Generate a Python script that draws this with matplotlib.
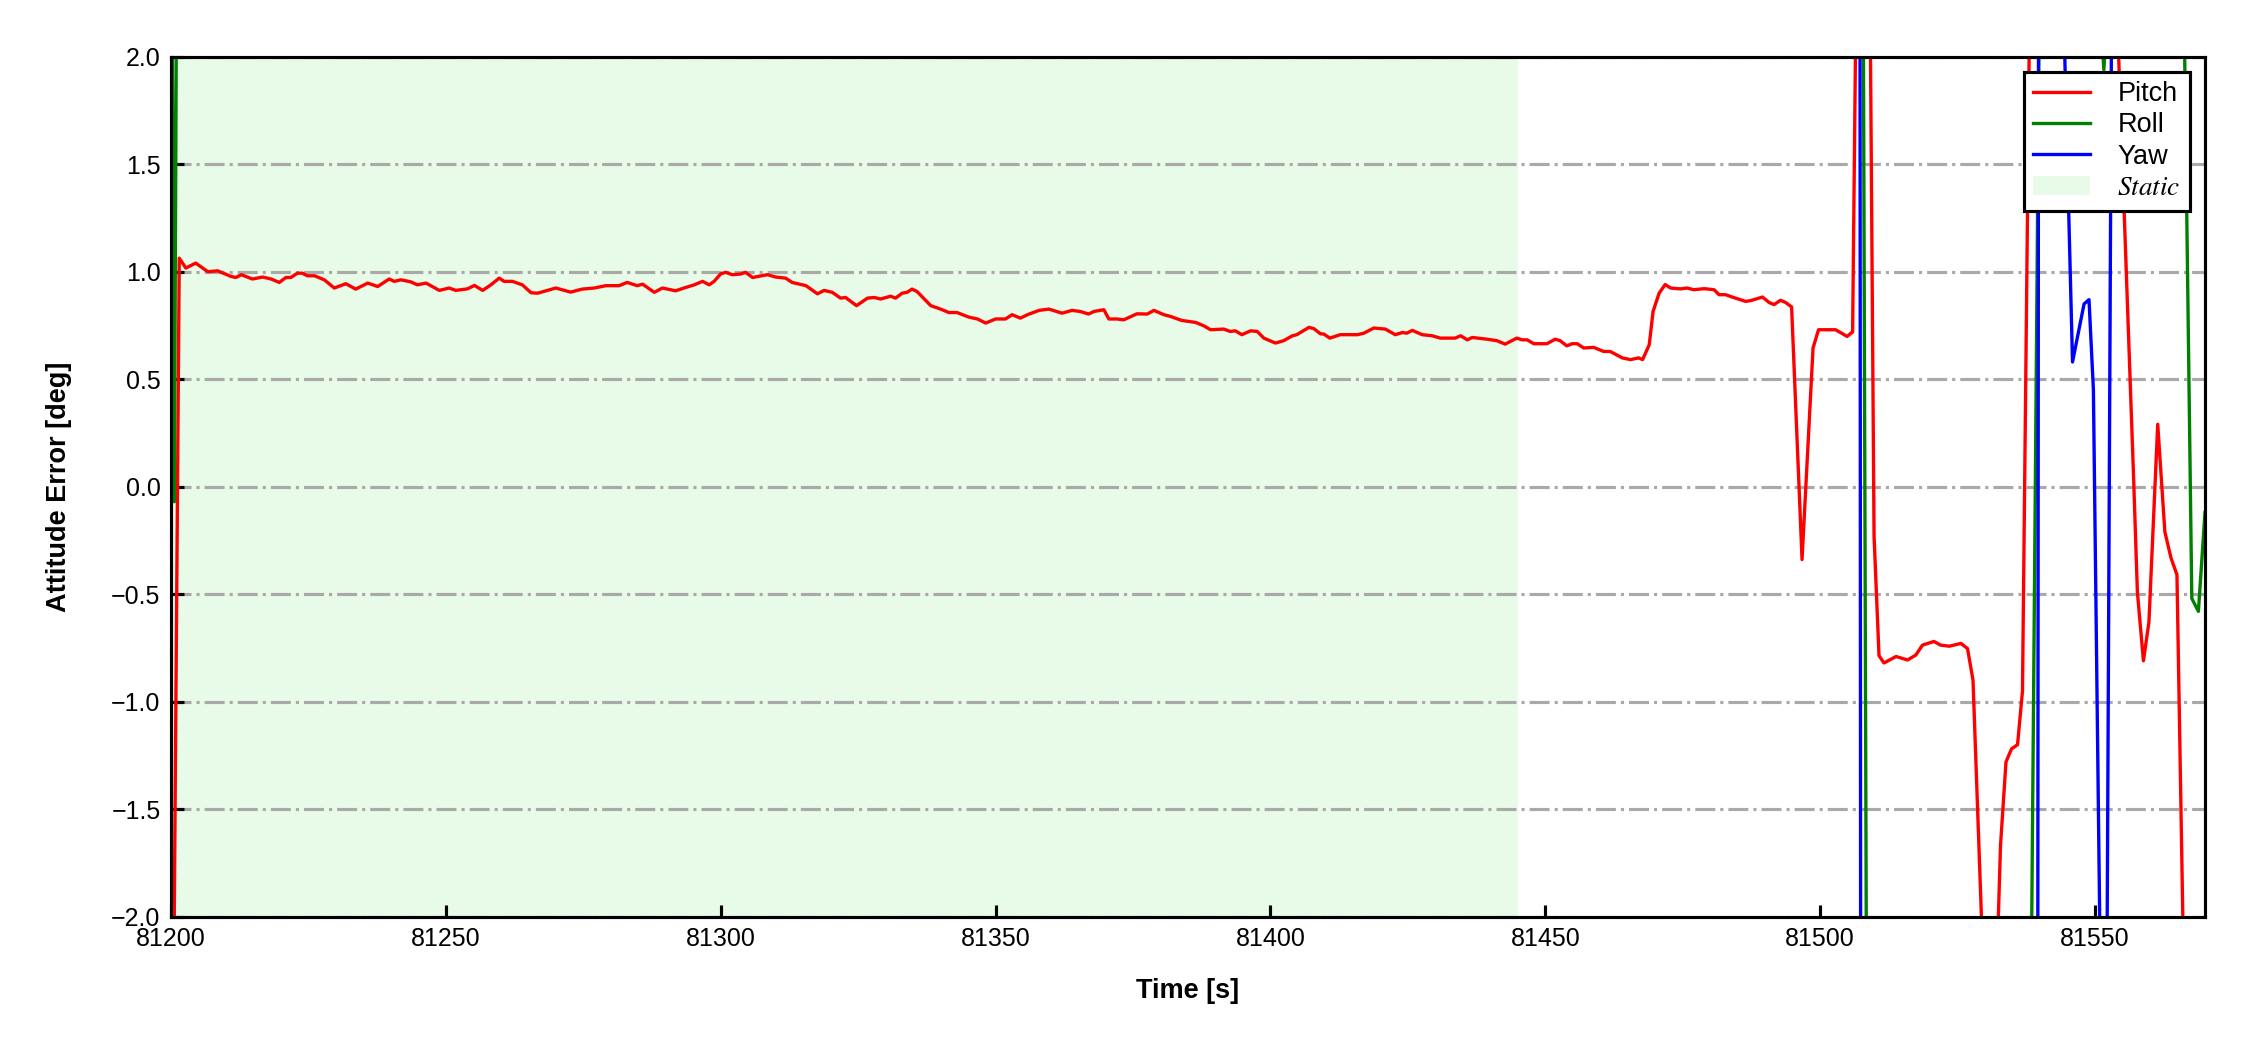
import numpy as np
import matplotlib.pyplot as plt

plt.rcParams['font.family'] = ['Liberation Sans', 'DejaVu Sans']
plt.rcParams['mathtext.fontset'] = 'stix'

# Pitch error (deg) vs GPS time (s)
pitch_t = [81200.3, 81201.5, 81202.7, 81204.5, 81206.7, 81208.5, 81210.9, 81211.8, 81212.8, 81214.8,
           81216.7, 81218.2, 81219.7, 81220.9, 81221.8, 81223.0, 81223.9, 81224.8, 81226.1, 81227.9,
           81229.7, 81231.8, 81233.6, 81235.8, 81237.6, 81239.7, 81240.6, 81241.8, 81243.6, 81244.8,
           81246.4, 81248.8, 81250.6, 81251.8, 81253.9, 81255.2, 81256.7, 81258.2, 81259.7, 81260.6,
           81262.1, 81263.9, 81265.5, 81266.7, 81270.0, 81272.7, 81274.8, 81277.0, 81279.1, 81281.5,
           81283.0, 81284.8, 81285.8, 81287.9, 81289.4, 81291.8, 81293.3, 81295.2, 81296.7, 81297.9,
           81298.8, 81300.0, 81300.9, 81302.1, 81303.6, 81304.5, 81305.8, 81308.5, 81310.0, 81311.8,
           81313.0, 81315.5, 81317.6, 81318.8, 81320.3, 81321.8, 81322.7, 81324.7, 81326.7, 81327.9,
           81329.1, 81330.9, 81331.8, 81333.0, 81333.9, 81334.8, 81335.7, 81338.2, 81340.0, 81341.5,
           81343.0, 81345.1, 81346.7, 81348.2, 81350.0, 81351.8, 81353.0, 81354.5, 81355.8, 81357.9,
           81359.7, 81362.1, 81363.9, 81365.4, 81366.9, 81367.9, 81369.7, 81370.6, 81372.1, 81373.3,
           81375.7, 81377.6, 81378.8, 81380.6, 81381.8, 81383.9, 81386.4, 81387.9, 81389.1, 81391.5,
           81392.7, 81393.6, 81394.8, 81396.4, 81397.6, 81398.8, 81400.9, 81402.4, 81404.0, 81404.8,
           81407.0, 81407.9, 81409.1, 81409.7, 81410.8, 81412.7, 81415.8, 81417.0, 81418.8, 81420.9,
           81422.7, 81424.0, 81424.8, 81425.8, 81427.6, 81429.4, 81430.9, 81433.6, 81434.6, 81435.8,
           81436.7, 81439.4, 81441.2, 81442.7, 81444.8, 81445.8, 81446.7, 81447.9, 81450.3, 81451.8,
           81452.7, 81453.9, 81454.9, 81455.8, 81457.0, 81458.8, 81460.6, 81461.8, 81464.0, 81465.5,
           81467.0, 81467.7, 81468.9, 81469.6, 81470.7, 81471.8, 81472.8, 81474.6, 81475.8, 81477.0,
           81478.9, 81480.7, 81481.6, 81482.8, 81484.0, 81486.4, 81487.3, 81489.5, 81490.7, 81491.6,
           81492.8, 81493.7, 81494.8, 81496.7, 81498.7, 81499.7, 81502.8, 81504.9, 81505.9, 81508.0,
           81509.8, 81510.7, 81511.6, 81513.8, 81515.9, 81517.4, 81518.6, 81520.7, 81521.9, 81523.5,
           81525.6, 81526.8, 81527.8, 81531.0, 81532.8, 81533.8, 81534.8, 81535.9, 81536.8, 81538.5,
           81546.0, 81553.6, 81557.0, 81557.7, 81558.8, 81559.8, 81561.4, 81562.7, 81563.8, 81564.9,
           81566.5, 81570.0]
pitch = [-3.0, 1.063, 1.017, 1.04, 1.00, 1.004, 0.978, 0.973, 0.986, 0.966,
         0.975, 0.966, 0.950, 0.973, 0.973, 0.993, 0.993, 0.981, 0.981, 0.962,
         0.924, 0.944, 0.919, 0.947, 0.931, 0.966, 0.955, 0.962, 0.953, 0.939,
         0.947, 0.913, 0.924, 0.913, 0.920, 0.936, 0.913, 0.939, 0.970, 0.955,
         0.955, 0.939, 0.902, 0.900, 0.924, 0.905, 0.919, 0.924, 0.935, 0.935,
         0.950, 0.935, 0.942, 0.904, 0.924, 0.911, 0.924, 0.939, 0.955, 0.939,
         0.955, 0.990, 0.997, 0.986, 0.989, 0.997, 0.973, 0.986, 0.975, 0.970,
         0.950, 0.935, 0.897, 0.913, 0.904, 0.877, 0.880, 0.842, 0.877, 0.880,
         0.873, 0.886, 0.877, 0.900, 0.904, 0.919, 0.908, 0.842, 0.826, 0.810,
         0.810, 0.789, 0.780, 0.761, 0.780, 0.780, 0.800, 0.784, 0.800, 0.820,
         0.826, 0.807, 0.820, 0.815, 0.803, 0.815, 0.823, 0.780, 0.780, 0.776,
         0.804, 0.803, 0.820, 0.800, 0.792, 0.773, 0.764, 0.748, 0.730, 0.733,
         0.722, 0.725, 0.707, 0.725, 0.722, 0.691, 0.668, 0.679, 0.702, 0.707,
         0.741, 0.735, 0.711, 0.710, 0.691, 0.707, 0.707, 0.714, 0.738, 0.733,
         0.707, 0.717, 0.714, 0.727, 0.707, 0.702, 0.691, 0.691, 0.702, 0.683,
         0.694, 0.686, 0.679, 0.663, 0.691, 0.683, 0.683, 0.665, 0.665, 0.686,
         0.679, 0.655, 0.665, 0.665, 0.645, 0.648, 0.629, 0.629, 0.599, 0.591,
         0.599, 0.591, 0.660, 0.815, 0.900, 0.940, 0.924, 0.920, 0.924, 0.916,
         0.921, 0.916, 0.893, 0.893, 0.882, 0.862, 0.865, 0.882, 0.857, 0.847,
         0.867, 0.857, 0.836, -0.339, 0.645, 0.730, 0.730, 0.699, 0.720, 6.0,
         -0.23, -0.786, -0.820, -0.790, -0.806, -0.783, -0.737, -0.720, -0.737, -0.742,
         -0.729, -0.753, -0.900, -3.2, -1.67, -1.28, -1.22, -1.20, -0.95, 3.2,
         4.0, 2.5, 0.05, -0.49, -0.81, -0.63, 0.29, -0.21, -0.33, -0.41,
         -2.8, -3.0]

# Roll error
roll_t = [81200.0, 81200.6, 81201.2, 81507.5, 81509.0, 81538.0, 81540.2, 81550.5, 81551.6, 81552.6,
          81566.0, 81567.6, 81568.8, 81570.0]
roll = [3.5, -0.07, 3.5, 5.0, -7.0, -3.5, 3.3, 2.4, 1.94, 2.4,
        2.6, -0.52, -0.58, -0.12]

# Yaw error
yaw_t = [81200.0, 81507.0, 81507.6, 81539.3, 81540.0, 81543.5, 81545.9, 81548.0, 81548.9, 81549.7,
         81551.4, 81552.1, 81553.0, 81554.0, 81570.0]
yaw = [12, 12, -12, -12, 12, 3.0, 0.58, 0.85, 0.87, 0.45,
       -3.2, -2.6, 2.2, 12, 12]

static_start, static_end = 81200, 81445

fig = plt.figure(figsize=(15, 7), dpi=150)
ax = fig.add_axes([0.076, 0.127, 0.904, 0.819])

ax.axvspan(static_start, static_end, color='lightgreen', alpha=0.2, lw=0, label='$Static$')
ax.plot(pitch_t, pitch, color='red', lw=1.6, label='Pitch')
ax.plot(roll_t, roll, color='green', lw=1.6, label='Roll')
ax.plot(yaw_t, yaw, color='blue', lw=1.6, label='Yaw')

ax.set_xlim(81200, 81570)
ax.set_ylim(-2, 2)
ax.set_xticks([81200, 81250, 81300, 81350, 81400, 81450, 81500, 81550])
ax.set_yticks(np.arange(-2, 2.01, 0.5))
ax.grid(axis='y', linestyle='-.', color='darkgray', lw=1.5)
ax.tick_params(direction='in', length=6, width=1.5, labelsize=12, pad=5)
for s in ax.spines.values():
    s.set_linewidth(1.5)

ax.set_xlabel('Time [s]', fontsize=13, fontweight='bold', labelpad=13)
ax.set_ylabel('Attitude Error [deg]', fontsize=13, fontweight='bold', labelpad=19)

h, l = ax.get_legend_handles_labels()
order = [1, 2, 3, 0]
leg = ax.legend([h[i] for i in order], [l[i] for i in order], loc='upper right',
                fontsize=13, fancybox=False, edgecolor='black', framealpha=1,
                borderaxespad=0.55, labelspacing=0.2, handlelength=2.1,
                handletextpad=1.0, borderpad=0.35)
leg.get_frame().set_linewidth(1.5)

fig.savefig('out.png', dpi=150)
